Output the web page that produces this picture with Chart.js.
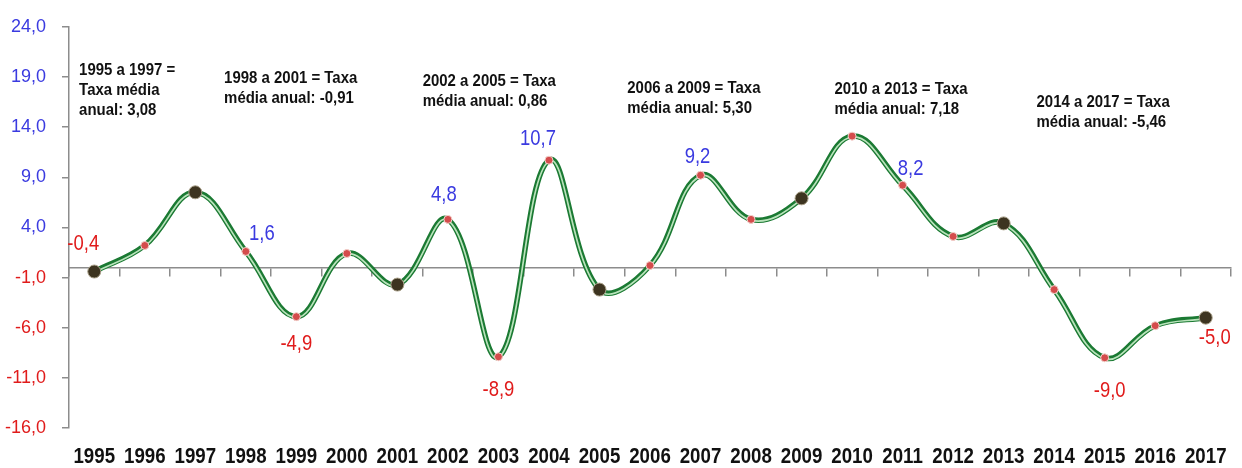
<!DOCTYPE html>
<html lang="pt">
<head>
<meta charset="utf-8">
<title>Taxa de crescimento anual 1995-2017</title>
<script src="https://cdn.jsdelivr.net/npm/chart.js@4.4.1/dist/chart.umd.min.js"></script>
<style>
  html, body { margin: 0; padding: 0; background: #ffffff; }
  #wrap { width: 1242px; height: 468px; position: relative; }
</style>
</head>
<body>
<div id="wrap"><canvas id="chart" width="1242" height="468"></canvas></div>
<script>
// Annual rate (%) per year
const years = ['1995','1996','1997','1998','1999','2000','2001','2002','2003','2004','2005','2006',
               '2007','2008','2009','2010','2011','2012','2013','2014','2015','2016','2017'];
const rates = [-0.4, 2.2, 7.5, 1.6, -4.9, 1.4, -1.7, 4.8, -8.9, 10.7, -2.2, 0.2,
               9.2, 4.8, 6.9, 13.1, 8.2, 3.1, 4.4, -2.2, -9.0, -5.8, -5.0];

// Years that close each period (drawn with the large dark marker)
const periodEnds = ['1995','1997','2001','2005','2009','2013','2017'];

// Years whose value is written next to the point, and where the label sits
const labelledYears = ['1995','1998','1999','2002','2003','2004','2007','2011','2015','2017'];
const labelShift = [[-11,-28],[16,-18],[0,27],[-4,-24],[0,33],[-11,-21],[-3,-18],[8,-16],[5,33],[9,20]];

// Y axis tick values
const yTicks = [-16, -11, -6, -1, 4, 9, 14, 19, 24];

// Period notes
const notes = [
  ['1995 a 1997 =', 'Taxa média', 'anual: 3,08'],
  ['1998 a 2001 = Taxa', 'média anual: -0,91'],
  ['2002 a 2005 = Taxa', 'média anual: 0,86'],
  ['2006 a 2009 = Taxa', 'média anual: 5,30'],
  ['2010 a 2013 = Taxa', 'média anual: 7,18'],
  ['2014 a 2017 = Taxa', 'média anual: -5,46']
];
// anchor of each note: [category index, value of first line]
const noteAnchor = [[-0.3, 19.7], [2.57, 18.9], [6.5, 18.6], [10.55, 17.9], [14.65, 17.8], [18.65, 16.5]];

const BLUE = '#3a3ae0';
const RED = '#e01b1b';
const AXIS = '#8c8c8c';
const SANS = '"Liberation Sans", Arial, sans-serif';

const fmt = v => v.toFixed(1).replace('.', ',');

const isEnd = years.map(y => periodEnds.includes(y));

// Draws text squeezed horizontally (narrow face look)
function narrowText(ctx, text, x, y, align, squeeze) {
  ctx.save();
  ctx.translate(x, y);
  ctx.scale(squeeze, 1);
  ctx.textAlign = align;
  ctx.fillText(text, 0, 0);
  ctx.restore();
}

// Shifts the light stripe a little below the dark line
const stripeShift = {
  id: 'stripeShift',
  beforeDatasetDraw(chart, args) {
    if (args.index === 1) { chart.ctx.save(); chart.ctx.translate(0, 0.9); }
  },
  afterDatasetDraw(chart, args) {
    if (args.index === 1) { chart.ctx.restore(); }
  }
};

// Year labels, value labels and period notes
const textLayer = {
  id: 'textLayer',
  afterDatasetsDraw(chart) {
    const ctx = chart.ctx;
    const xs = chart.scales.x, ys = chart.scales.y;
    const meta = chart.getDatasetMeta(2);
    ctx.save();
    ctx.textBaseline = 'middle';

    // category labels
    ctx.fillStyle = '#111111';
    ctx.font = 'bold 22px ' + SANS;
    years.forEach((y, i) => {
      narrowText(ctx, y, xs.getPixelForValue(i), chart.chartArea.bottom + 29, 'center', 0.85);
    });

    // value labels
    ctx.font = '22px ' + SANS;
    labelledYears.forEach((y, k) => {
      const i = years.indexOf(y);
      const pt = meta.data[i];
      const v = rates[i];
      ctx.fillStyle = v >= 0 ? BLUE : RED;
      narrowText(ctx, fmt(v), pt.x + labelShift[k][0], pt.y + labelShift[k][1], 'center', 0.84);
    });

    // period notes
    ctx.fillStyle = '#111111';
    ctx.font = 'bold 17px ' + SANS;
    notes.forEach((lines, k) => {
      const x = xs.getPixelForValue(noteAnchor[k][0]);
      const y0 = ys.getPixelForValue(noteAnchor[k][1]);
      lines.forEach((t, j) => narrowText(ctx, t, x, y0 + j * 20, 'left', 0.88));
    });
    ctx.restore();
  }
};

new Chart(document.getElementById('chart'), {
  type: 'line',
  data: {
    labels: years,
    datasets: [
      {
        data: rates,
        borderColor: '#1b7a33',
        borderWidth: 5.5,
        tension: 0.4,
        pointRadius: 0,
        order: 3,
        xAxisID: 'x', yAxisID: 'y'
      },
      {
        data: rates,
        borderColor: '#b9e3bb',
        borderWidth: 1.7,
        tension: 0.4,
        pointRadius: 0,
        order: 2,
        xAxisID: 'x', yAxisID: 'y'
      },
      {
        data: rates,
        showLine: false,
        pointRadius: isEnd.map(e => e ? 6.5 : 4),
        pointBackgroundColor: isEnd.map(e => e ? '#3d3420' : '#d44c4c'),
        pointBorderColor: isEnd.map(e => e ? '#a89f88' : '#f2d2cc'),
        pointBorderWidth: 1,
        order: 1,
        xAxisID: 'x', yAxisID: 'y'
      }
    ]
  },
  options: {
    responsive: false,
    animation: false,
    events: [],
    layout: { padding: { top: 24, right: 11, left: 0, bottom: 0 } },
    plugins: { legend: { display: false }, tooltip: { enabled: false }, title: { display: false } },
    scales: {
      x: {
        type: 'category',
        position: 'bottom',
        offset: true,
        grid: { display: false, drawTicks: false },
        border: { display: false },
        ticks: { display: false },
        afterFit(scale) { scale.height = 40; }
      },
      x0: {
        axis: 'x',
        type: 'category',
        labels: years,
        position: { y: 0 },
        offset: true,
        grid: { offset: true, drawOnChartArea: false, drawTicks: true, tickLength: 8, color: AXIS, lineWidth: 1.5 },
        border: { display: true, color: AXIS, width: 1.5 },
        ticks: { display: false }
      },
      y: {
        type: 'linear',
        position: 'left',
        min: -16,
        max: 24,
        afterBuildTicks(scale) { scale.ticks = yTicks.map(v => ({ value: v })); },
        grid: { drawOnChartArea: false, drawTicks: true, tickLength: 7, color: AXIS, lineWidth: 1.5 },
        border: { display: true, color: AXIS, width: 1.5 },
        ticks: {
          padding: 16,
          font: { family: SANS, size: 18 },
          color: ctx => (ctx.tick && ctx.tick.value >= 0) ? BLUE : RED,
          callback: v => fmt(v)
        },
        afterFit(scale) { scale.width = 69; }
      }
    }
  },
  plugins: [stripeShift, textLayer]
});
</script>
</body>
</html>
